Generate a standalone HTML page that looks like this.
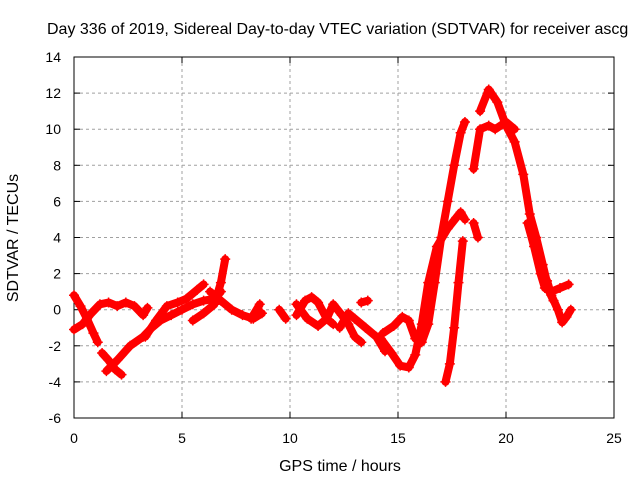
<!DOCTYPE html>
<html><head><meta charset="utf-8"><style>
body{margin:0;background:#fff}
svg{display:block;font-family:"Liberation Sans",sans-serif}
</style></head><body>
<svg id="chart" width="640" height="480" xmlns="http://www.w3.org/2000/svg">
<rect width="640" height="480" fill="#fff"/>
<text x="47" y="34" font-size="16">Day 336 of 2019, Sidereal Day-to-day VTEC variation (SDTVAR) for receiver ascg</text>
<g id="grid"></g>
<g id="axes"></g>
<g id="series"></g>
<text x="340" y="471" font-size="16" text-anchor="middle">GPS time / hours</text>
<text x="18" y="238" font-size="16" text-anchor="middle" transform="rotate(-90 18 238)">SDTVAR / TECUs</text>
</svg>
<script>
const xTicks=[0,5,10,15,20,25];
const yTicks=[-6,-4,-2,0,2,4,6,8,10,12,14];
const trackHours=[
[0,0.3,0.6,0.9,1.1],
[0,0.4,0.8,1.2,1.6,2.0,2.4,2.8,3.2,3.4],
[1.3,1.6,1.9,2.2],
[1.5,2.0,2.6,3.2,3.6,4.0,4.5,5.0,5.5,6.0,6.5,6.8],
[3.3,3.8,4.3,4.8,5.2,5.7,6.0],
[5.5,6.0,6.5,6.8,7.0],
[6.3,6.8,7.3,7.8,8.3,8.7],
[8.2,8.6],
[9.5,9.8],
[10.3,10.7,11.0,11.3,11.7,12.0],
[10.3,10.8,11.3,11.7,12.0,12.4,12.7,13.0,13.3],
[12.3,12.7,13.0,13.5,14.0,14.4],
[13.3,13.6],
[14.3,14.8,15.2,15.5,15.8,16.1,16.4,16.7,17.0,17.3,17.6,17.9,18.1],
[14.2,14.7,15.1,15.5,15.8,16.1,16.4,16.8,17.3,17.7,17.9,18.1],
[18.5,18.7],
[17.2,17.4,17.6,17.8,18.0],
[18.8,19.2,19.6,20.0,20.4,20.8,21.1,21.4,21.7,22.0,22.2],
[18.5,18.8,19.2,19.5,20.0,20.4],
[21.0,21.3,21.6,21.8,22.1,22.5,22.9],
[21.9,22.1,22.4,22.6,22.8,23.0]
];
const trackValues=[
[0.8,0.2,-0.5,-1.3,-1.8],
[-1.1,-0.8,-0.2,0.3,0.4,0.2,0.4,0.2,-0.3,0.1],
[-2.4,-2.8,-3.3,-3.6],
[-3.4,-2.8,-2.0,-1.5,-1.0,-0.6,-0.3,0,0.3,0.5,0.6,1.0],
[-1.5,-0.6,0.2,0.4,0.6,1.1,1.4],
[-0.6,-0.2,0.3,1.5,2.8],
[1.0,0.5,0,-0.3,-0.5,-0.2],
[-0.5,0.3],
[0,-0.5],
[-0.3,0.5,0.7,0.4,-0.5,-0.8],
[0.3,-0.5,-0.9,-0.5,0.3,-0.3,-0.8,-1.5,-1.8],
[-1.0,-0.2,-0.5,-1.0,-1.5,-2.3],
[0.4,0.5],
[-1.3,-0.9,-0.4,-0.6,-1.6,-1.8,-0.8,1.5,4.0,6.0,8.0,9.8,10.4],
[-1.6,-2.4,-3.1,-3.2,-2.5,-0.8,1.5,3.5,4.5,5.1,5.4,5.0],
[4.8,4.0],
[-4.0,-3.0,-1.0,1.5,3.8],
[11.0,12.2,11.5,10.2,9.3,7.5,5.3,4.0,2.5,1.0,0.5],
[7.8,10.0,10.2,10.0,10.4,10.0],
[4.8,3.5,2.0,1.2,1.0,1.2,1.4],
[1.6,0.8,0,-0.7,-0.4,0]
];
const X0=74,X1=614,Y0=418,Y1=57;
const xs=h=>X0+(h-0)/(25-0)*(X1-X0);
const ys=v=>Y0-(v+6)/(14+6)*(Y0-Y1);
const NS="http://www.w3.org/2000/svg";
function mk(t,a,p){const e=document.createElementNS(NS,t);for(const k in a)e.setAttribute(k,a[k]);p.appendChild(e);return e;}
const grid=document.getElementById('grid'),axes=document.getElementById('axes'),ser=document.getElementById('series');
xTicks.forEach(t=>{const x=xs(t);
 if(t>0&&t<25){const g=mk('line',{x1:x,x2:x,y1:Y1,y2:Y0,stroke:'#a0a0a0','stroke-dasharray':'3,3'},grid);
 
 }
 mk('line',{x1:x,x2:x,y1:Y0,y2:Y0-6,stroke:'#000'},axes);mk('line',{x1:x,x2:x,y1:Y1,y2:Y1+6,stroke:'#000'},axes);
 const l=mk('text',{x:x,y:Y0+25,'font-size':14,'text-anchor':'middle'},axes);l.textContent=t;
 
 });
yTicks.forEach(t=>{const y=ys(t);
 if(t>-6&&t<14){const g=mk('line',{x1:X0,x2:X1,y1:y,y2:y,stroke:'#a0a0a0','stroke-dasharray':'3,3'},grid);
 
 }
 mk('line',{x1:X0,x2:X0+6,y1:y,y2:y,stroke:'#000'},axes);mk('line',{x1:X1,x2:X1-6,y1:y,y2:y,stroke:'#000'},axes);
 const l=mk('text',{x:X0-13,y:y+5,'font-size':14,'text-anchor':'end'},axes);l.textContent=t;
 
 });
mk('rect',{x:X0,y:Y1,width:X1-X0,height:Y0-Y1,fill:'none',stroke:'#000'},axes);
trackHours.forEach((hs,i)=>{const vs=trackValues[i];
 const pts=hs.map((h,j)=>xs(h)+','+ys(vs[j])).join(' ');
 const pl=mk('polyline',{points:pts,fill:'none',stroke:'#ff0000','stroke-width':8,'stroke-linejoin':'round','stroke-linecap':'round'},ser);
 
 
 hs.forEach((h,j)=>{const x=xs(h),y=ys(vs[j]);
  const p=mk('path',{d:`M${x-5},${y}H${x+5}M${x},${y-5}V${y+5}`,stroke:'#ff0000','stroke-width':1.5},ser);
  
  });
});
</script>
</body></html>
